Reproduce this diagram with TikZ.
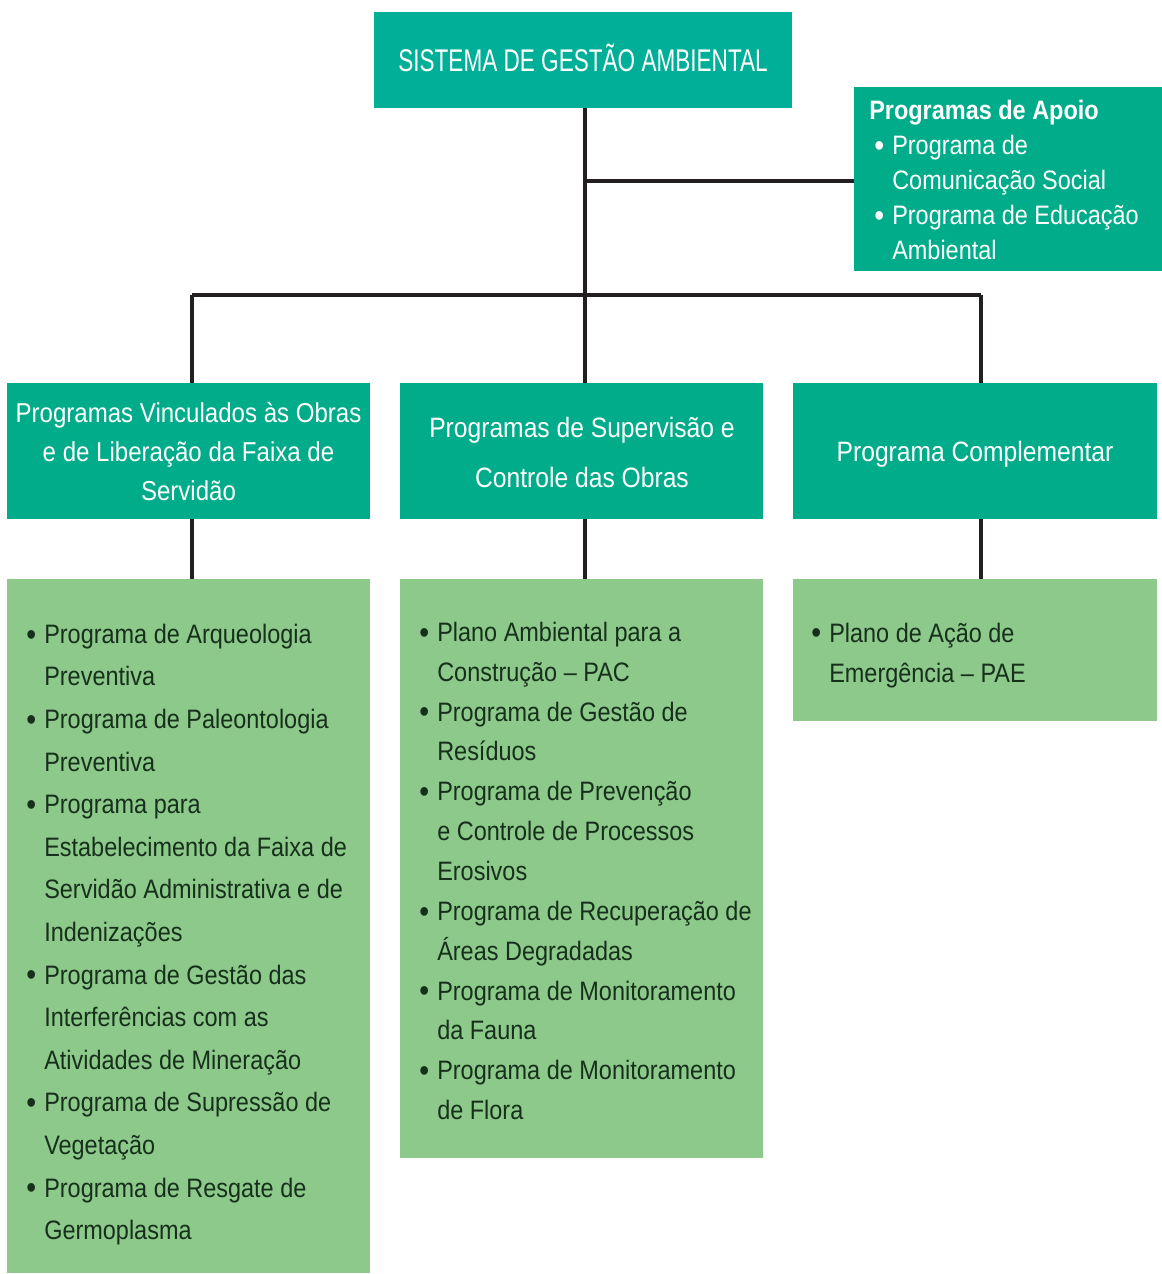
\documentclass[tikz,border=0pt]{standalone}
\usepackage{fontspec}
\usetikzlibrary{fit,backgrounds}
\newfontfamily\bodyf{Liberation Sans}[FakeStretch=0.88]
\newfontfamily\titlef{Liberation Sans}[FakeStretch=0.72]
\definecolor{tealA}{HTML}{00AF97}
\definecolor{tealB}{HTML}{00AC8A}
\definecolor{lgreen}{HTML}{8CC98A}
\definecolor{darktxt}{HTML}{17301B}
\definecolor{linec}{HTML}{231F20}
\newcommand\bl{\makebox[13.5pt][l]{\raisebox{-1.4pt}{\fontsize{24}{24}\selectfont\textbullet}}}
\newcommand\ind{\hspace*{13.5pt}}
\newcommand\fst{\rule{0pt}{16pt}}
\tikzset{
  boxA/.style={fill=tealA, inner sep=0pt, draw=none},
  boxB/.style={fill=tealB, inner sep=0pt, draw=none},
  boxL/.style={fill=lgreen, inner sep=0pt, draw=none},
  hdrtxt/.style={text=white, inner sep=0pt, align=center},
  bodytxt/.style={text=darktxt, inner sep=0pt, align=left, anchor=north west},
  conn/.style={draw=linec, line width=2.3pt}
}
\begin{document}
\begin{tikzpicture}[x=0.75pt,y=-0.75pt]
\useasboundingbox (0,0) rectangle (1162,1274);
% boxes
\node[boxA, fit={(374,12) (792,108)}] (top) {};
\node[boxB, fit={(854,87) (1162,271)}] (apoio) {};
\node[boxB, fit={(7,383) (370,519)}] (lh) {};
\node[boxB, fit={(400,383) (763,519)}] (mh) {};
\node[boxB, fit={(793,383) (1157,519)}] (rh) {};
\node[boxL, fit={(7,579) (370,1273)}] (ll) {};
\node[boxL, fit={(400,579) (763,1158)}] (ml) {};
\node[boxL, fit={(793,579) (1157,721)}] (rl) {};
% connectors
\coordinate (bL) at (192,295);
\coordinate (bM) at (585,295);
\coordinate (bR) at (981,295);
\coordinate (ap) at (585,181);
\begin{pgfonlayer}{background}
\draw[conn] (top.south -| bM) -- (bM);
\draw[conn] (ap) -- (apoio.west |- ap);
\draw[conn] (bL) -- (bR);
\draw[conn] (bL) -- (lh.north -| bL);
\draw[conn] (bM) -- (mh.north -| bM);
\draw[conn] (bR) -- (rh.north -| bR);
\draw[conn] (lh.south -| bL) -- (ll.north -| bL);
\draw[conn] (mh.south -| bM) -- (ml.north -| bM);
\draw[conn] (rh.south -| bR) -- (rl.north -| bR);
\end{pgfonlayer}
% texts
\node[text=white, inner sep=0pt, anchor=base, font=\titlef\fontsize{23.5}{28}\selectfont] (tt) at (583,71) {SISTEMA DE GESTÃO AMBIENTAL};
\node[text=white, inner sep=0pt, anchor=base west, font=\bodyf\bfseries\fontsize{20}{26}\selectfont] (apt) at (869,119.3) {Programas de Apoio};
\node[text=white, inner sep=0pt, align=left, anchor=north west, font=\bodyf\fontsize{20}{26.25}\selectfont] (apl) at (874,132.7)
 {\fst\bl Programa de\\\ind Comunicação Social\\\bl Programa de Educação\\\ind Ambiental};
\node[hdrtxt, anchor=north, font=\bodyf\fontsize{20.5}{29.6}\selectfont] (lht) at (188.5,400.4)
 {\fst Programas Vinculados às Obras\\e de Liberação da Faixa de\\Servidão};
\node[hdrtxt, anchor=north, font=\bodyf\fontsize{21}{37.5}\selectfont] (mht) at (582,415.4)
 {\fst Programas de Supervisão e\\Controle das Obras};
\node[hdrtxt, anchor=base, font=\bodyf\fontsize{21}{26}\selectfont] (rht) at (975,461.7) {Programa Complementar};
\node[bodytxt, font=\bodyf\fontsize{20}{31.95}\selectfont] (llt) at (26,621.7)
 {\fst\bl Programa de Arqueologia\\\ind Preventiva\\
  \bl Programa de Paleontologia\\\ind Preventiva\\
  \bl Programa para\\\ind Estabelecimento da Faixa de\\\ind Servidão Administrativa e de\\\ind Indenizações\\
  \bl Programa de Gestão das\\\ind Interferências com as\\\ind Atividades de Mineração\\
  \bl Programa de Supressão de\\\ind Vegetação\\
  \bl Programa de Resgate de\\\ind Germoplasma};
\node[bodytxt, font=\bodyf\fontsize{20}{29.9}\selectfont] (mlt) at (419,619.7)
 {\fst\bl Plano Ambiental para a\\\ind Construção – PAC\\
  \bl Programa de Gestão de\\\ind Resíduos\\
  \bl Programa de Prevenção\\\ind e Controle de Processos\\\ind Erosivos\\
  \bl Programa de Recuperação de\\\ind Áreas Degradadas\\
  \bl Programa de Monitoramento\\\ind da Fauna\\
  \bl Programa de Monitoramento\\\ind de Flora};
\node[bodytxt, font=\bodyf\fontsize{20}{30}\selectfont] (rlt) at (811,620.4)
 {\fst\bl Plano de Ação de\\\ind Emergência – PAE};
\end{tikzpicture}
\end{document}
